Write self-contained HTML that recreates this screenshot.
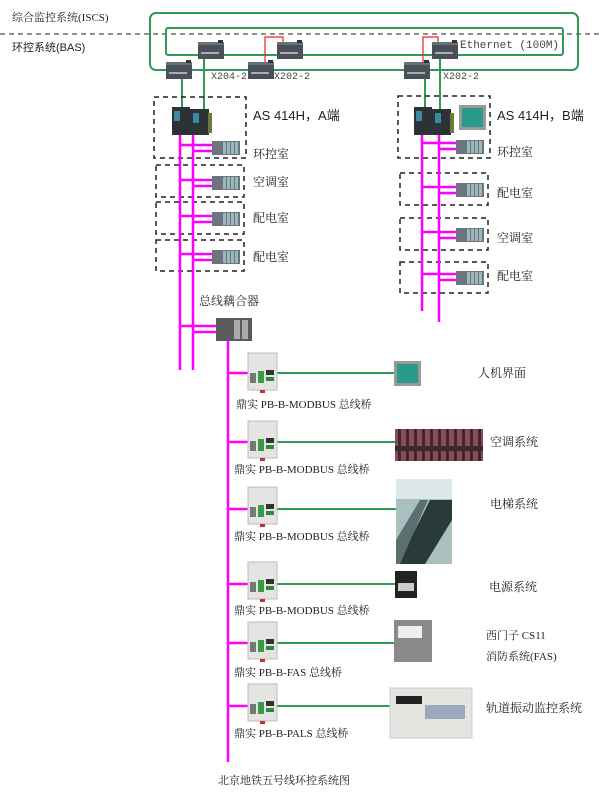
<!DOCTYPE html>
<html><head><meta charset="utf-8"><style>
body{margin:0;background:#fff}
svg{display:block}
text{font-family:"Liberation Serif","Noto Serif CJK SC","Noto Sans CJK SC",serif;fill:#222}
.s{font-family:"Liberation Sans","Noto Sans CJK SC",sans-serif}
.m{font-family:"Liberation Mono","Noto Sans CJK SC",monospace;fill:#444}
</style></head><body>
<svg width="600" height="800" viewBox="0 0 600 800" xmlns="http://www.w3.org/2000/svg">
<defs>
<g id="sw"><rect width="26" height="17" fill="#4a5058"/><rect x="0" y="0" width="26" height="3" fill="#6a7078"/><rect x="20" y="-2" width="5" height="3" fill="#333"/><rect x="3" y="10" width="18" height="2" fill="#aab"/></g>
<g id="io"><rect width="28" height="14" fill="#6c7480"/><rect x="11" y="1" width="3" height="12" fill="#9ab8b8"/><rect x="15" y="1" width="3" height="12" fill="#9ab8b8"/><rect x="19" y="1" width="3" height="12" fill="#9ab8b8"/><rect x="23" y="1" width="3" height="12" fill="#9ab8b8"/></g>
<g id="plc"><rect width="18" height="28" fill="#2c3236"/><rect x="2" y="4" width="6" height="10" fill="#3a8aa0"/><rect x="18" y="2" width="19" height="26" fill="#2c3236"/><rect x="21" y="6" width="6" height="10" fill="#3a8aa0"/><rect x="36" y="6" width="4" height="20" fill="#6a7a40"/></g>
<g id="br"><rect width="29" height="37" fill="#e4e4e2" stroke="#bbb"/><rect x="2" y="20" width="6" height="10" fill="#777"/><rect x="10" y="18" width="6" height="12" fill="#3a9a4a"/><rect x="18" y="17" width="8" height="5" fill="#333"/><rect x="18" y="24" width="8" height="4" fill="#2a8a3a"/><rect x="12" y="37" width="5" height="3" fill="#b33"/></g>
<pattern id="ac" width="8" height="32" patternUnits="userSpaceOnUse"><rect width="8" height="32" fill="#3a2a2e"/><rect x="1" y="3" width="5" height="27" fill="#8a4a58"/></pattern>
</defs>
<text x="12" y="21" font-size="11">综合监控系统(ISCS)</text>
<text x="12" y="51" font-size="11" class="s">环控系统(BAS)</text>
<line x1="0" y1="34" x2="600" y2="34" stroke="#222" stroke-dasharray="5,4"/>
<rect x="150" y="13" width="428" height="57" rx="6" fill="none" stroke="#2e9a55" stroke-width="2"/>
<rect x="166" y="28" width="397" height="27" rx="2" fill="none" stroke="#2e9a55" stroke-width="2"/>
<text x="460" y="48" font-size="11" class="m">Ethernet (100M)</text>
<polyline points="265,70 265,37 283,37 283,45" fill="none" stroke="#e22" stroke-width="1.2"/>
<polyline points="423,70 423,37 438,37 438,45" fill="none" stroke="#e22" stroke-width="1.2"/>
<g stroke="#2e9a55" stroke-width="2"><line x1="182" y1="78" x2="182" y2="110"/><line x1="204" y1="58" x2="204" y2="110"/><line x1="425" y1="78" x2="425" y2="110"/><line x1="440" y1="58" x2="440" y2="110"/></g>
<use href="#sw" x="198" y="42"/><use href="#sw" x="166" y="62"/><use href="#sw" x="248" y="62"/><use href="#sw" x="277" y="42"/><use href="#sw" x="432" y="42"/><use href="#sw" x="404" y="62"/>
<text x="211" y="79" font-size="10" class="m">X204-2</text><text x="274" y="79" font-size="10" class="m">X202-2</text><text x="443" y="79" font-size="10" class="m">X202-2</text>
<g fill="none" stroke="#222" stroke-width="1.5" stroke-dasharray="5,4">
<rect x="154" y="97" width="92" height="61"/><rect x="156" y="165" width="88" height="32"/><rect x="156" y="202" width="88" height="32"/><rect x="156" y="240" width="88" height="31"/>
<rect x="398" y="96" width="92" height="62"/><rect x="400" y="173" width="88" height="32"/><rect x="400" y="218" width="88" height="32"/><rect x="400" y="262" width="88" height="31"/>
</g>
<g stroke="#f0f" stroke-width="2.5">
<line x1="180" y1="130" x2="180" y2="370"/><line x1="193" y1="130" x2="193" y2="370"/>
<line x1="422" y1="130" x2="422" y2="311"/><line x1="439" y1="130" x2="439" y2="322"/>
<line x1="180" y1="145" x2="214" y2="145"/><line x1="193" y1="151" x2="214" y2="151"/>
<line x1="180" y1="180" x2="214" y2="180"/><line x1="193" y1="186" x2="214" y2="186"/>
<line x1="180" y1="216" x2="214" y2="216"/><line x1="193" y1="222" x2="214" y2="222"/>
<line x1="180" y1="254" x2="214" y2="254"/><line x1="193" y1="260" x2="214" y2="260"/>
<line x1="422" y1="143" x2="458" y2="143"/><line x1="439" y1="149" x2="458" y2="149"/>
<line x1="422" y1="187" x2="458" y2="187"/><line x1="439" y1="193" x2="458" y2="193"/>
<line x1="422" y1="232" x2="458" y2="232"/><line x1="439" y1="238" x2="458" y2="238"/>
<line x1="422" y1="274" x2="458" y2="274"/><line x1="439" y1="280" x2="458" y2="280"/>
<line x1="180" y1="326" x2="218" y2="326"/><line x1="193" y1="332" x2="218" y2="332"/>
<line x1="228" y1="340" x2="228" y2="762"/>
<line x1="228" y1="373" x2="250" y2="373"/><line x1="228" y1="442" x2="250" y2="442"/><line x1="228" y1="509" x2="250" y2="509"/><line x1="228" y1="584" x2="250" y2="584"/><line x1="228" y1="643" x2="250" y2="643"/><line x1="228" y1="706" x2="250" y2="706"/>
</g>
<use href="#plc" x="172" y="107"/><use href="#plc" x="414" y="107"/>
<rect x="459" y="105" width="27" height="25" fill="#999"/><rect x="462" y="108" width="21" height="19" fill="#2a9a8a"/>
<use href="#io" x="212" y="141"/><use href="#io" x="212" y="176"/><use href="#io" x="212" y="212"/><use href="#io" x="212" y="250"/>
<use href="#io" x="456" y="140"/><use href="#io" x="456" y="183"/><use href="#io" x="456" y="228"/><use href="#io" x="456" y="271"/>
<text x="253" y="120" font-size="13" class="s">AS 414H，A端</text><text x="497" y="120" font-size="13" class="s">AS 414H，B端</text>
<g font-size="12"><text x="253" y="158">环控室</text><text x="253" y="186">空调室</text><text x="253" y="222">配电室</text><text x="253" y="261">配电室</text>
<text x="497" y="156">环控室</text><text x="497" y="197">配电室</text><text x="497" y="242">空调室</text><text x="497" y="280">配电室</text>
<text x="199" y="305">总线藕合器</text></g>
<rect x="216" y="318" width="36" height="23" fill="#5a5a5e"/><rect x="234" y="320" width="6" height="19" fill="#aaa"/><rect x="242" y="320" width="6" height="19" fill="#aaa"/>
<g stroke="#2e9a55" stroke-width="2"><line x1="277" y1="373" x2="394" y2="373"/><line x1="277" y1="442" x2="395" y2="442"/><line x1="277" y1="509" x2="396" y2="509"/><line x1="277" y1="584" x2="395" y2="584"/><line x1="277" y1="643" x2="394" y2="643"/><line x1="277" y1="706" x2="390" y2="706"/></g>
<use href="#br" x="248" y="353"/><use href="#br" x="248" y="421"/><use href="#br" x="248" y="487"/><use href="#br" x="248" y="562"/><use href="#br" x="248" y="622"/><use href="#br" x="248" y="684"/>
<rect x="394" y="361" width="27" height="25" fill="#999"/><rect x="397" y="364" width="21" height="19" fill="#2a9a8a"/>
<rect x="395" y="429" width="88" height="32" fill="url(#ac)"/>
<rect x="396" y="479" width="56" height="85" fill="#a8c0c0"/><rect x="396" y="479" width="56" height="20" fill="#dde8e8"/><polygon points="398,564 430,500 452,500 452,520 425,564" fill="#2a3a38"/><polygon points="396,540 420,500 428,500 400,564 396,564" fill="#5a7070"/>
<rect x="395" y="571" width="22" height="27" fill="#222"/><rect x="398" y="583" width="16" height="8" fill="#ccc"/>
<rect x="394" y="620" width="38" height="42" fill="#8a8a8a"/><rect x="398" y="626" width="24" height="12" fill="#eee"/>
<rect x="390" y="688" width="82" height="50" fill="#e4e4e0" stroke="#ccc"/><rect x="396" y="696" width="26" height="8" fill="#222"/><rect x="425" y="705" width="40" height="14" fill="#9ab"/>
<g font-size="11"><text x="236" y="408">鼎实 PB-B-MODBUS 总线桥</text><text x="234" y="473">鼎实 PB-B-MODBUS 总线桥</text><text x="234" y="540">鼎实 PB-B-MODBUS 总线桥</text><text x="234" y="614">鼎实 PB-B-MODBUS 总线桥</text><text x="234" y="676">鼎实 PB-B-FAS 总线桥</text><text x="234" y="737">鼎实 PB-B-PALS 总线桥</text>
<text x="478" y="377" font-size="12">人机界面</text><text x="490" y="446" font-size="12">空调系统</text><text x="490" y="508" font-size="12">电梯系统</text><text x="489" y="591" font-size="12">电源系统</text><text x="486" y="639">西门子 CS11</text><text x="486" y="660">消防系统(FAS)</text><text x="486" y="712" font-size="12">轨道振动监控系统</text>
<text x="218" y="784">北京地铁五号线环控系统图</text></g>
</svg>
</body></html>
